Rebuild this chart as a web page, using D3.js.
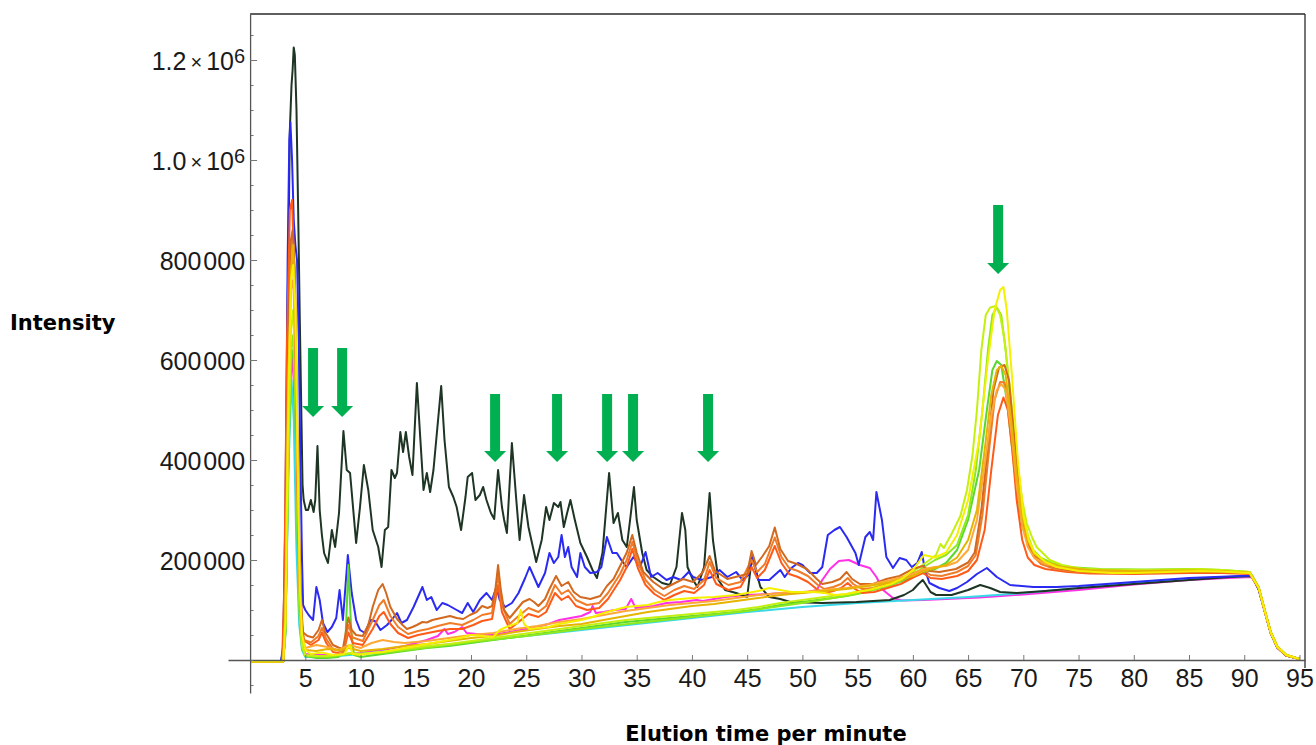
<!DOCTYPE html>
<html><head><meta charset="utf-8">
<script src="https://cdn.jsdelivr.net/npm/d3@7"></script>
<style>
html,body{margin:0;padding:0;background:#fff;}
svg{display:block;}
</style></head>
<body>
<svg id="chart" width="1316" height="745"></svg>
<script>
// ---------------- DATA (time in minutes, intensity in thousands) ----------------
const xTickValues = [5,10,15,20,25,30,35,40,45,50,55,60,65,70,75,80,85,90,95];
const xTickLabels = ["5","10","15","20","25","30","35","40","45","50","55","60","65","70","75","80","85","90","95"];
const yTickValues = [200,400,600,800,1000,1200];
const yTickLabels = ["200000","400000","600000","800000","1.0×10^6","1.2×10^6"];
const xTitle = "Elution time per minute";
const yTitle = "Intensity";
// arrows: [time, top intensity, tip intensity]
const arrowMarks = [[5.7,624,486],[8.33,624,486],[22.18,532,396],[27.79,532,396],[32.32,532,396],[34.67,532,396],[41.46,532,396],[67.72,910,772]];

const seriesCyan = [[0,-3],[3.0,-3],[3.2,60],[3.5,400],[3.75,560],[3.95,480],[4.2,220],[4.45,70],[4.7,20],[5,6],[7,6],[10,12],[15,24],[20,36],[25,48],[30,60],[35,72],[40,84],[45,96],[50,106],[55,114],[60,120],[65,126],[70,134],[75,144],[80,154],[85,162],[88.5,166],[90.7,168],[91.3,142],[91.9,94],[92.4,54],[93,25],[93.8,9],[95,2]];

const seriesMagenta = [[0,-3],[3.0,-3],[3.2,60],[3.5,450],[3.75,620],[3.95,560],[4.2,300],[4.45,100],[4.7,30],[5,12],[6,10],[8,10],[9,12],[10,14],[12,20],[14,28],[16,40],[17,48],[17.6,62],[17.9,52],[18.5,56],[19.2,66],[19.6,54],[20.5,52],[22,50],[23,54],[24,58],[25,62],[26,66],[27,72],[28,80],[29,84],[30,88],[30.8,96],[31.0,108],[31.3,94],[32,96],[33,100],[34,102],[34.5,122],[34.9,104],[35.5,106],[36.5,108],[37.7,114],[39,116],[40.4,120],[41,118],[42,122],[43,126],[45,130],[47,132],[48,134],[49.5,134],[50.5,136],[51.3,140],[51.8,160],[52.5,182],[53.3,198],[54.2,200],[55.2,190],[56.1,184],[56.7,166],[57.3,140],[58.2,124],[59,119],[61,120],[63,122],[66,125],[68,128],[70,131],[75,140],[80,151],[85,160],[88.5,164],[90.7,166],[91.3,141],[91.9,93],[92.4,53],[93,24],[93.8,9],[95,2]];

const seriesDark = [[0,-3],[2.8,-3],[3.0,20],[3.2,200],[3.4,700],[3.6,1060],[3.75,1150],[3.85,1180],[3.95,1225],[4.05,1210],[4.2,1100],[4.35,900],[4.5,680],[4.65,480],[4.75,350],[4.85,320],[5.05,300],[5.25,300],[5.5,320],[5.75,296],[5.9,320],[6.1,428],[6.3,300],[6.5,250],[6.7,214],[7.05,194],[7.4,260],[7.7,226],[8.05,294],[8.45,458],[8.75,380],[9.05,374],[9.6,234],[9.95,306],[10.3,390],[10.7,340],[11.1,260],[11.6,226],[11.9,186],[12.2,260],[12.5,266],[12.8,380],[13.1,364],[13.3,374],[13.6,456],[13.85,416],[14.1,456],[14.4,406],[14.7,370],[15.1,554],[15.4,446],[15.7,340],[16.0,374],[16.3,336],[16.6,380],[17.3,548],[17.6,440],[18.0,346],[18.4,326],[18.7,306],[19.1,260],[19.5,326],[19.7,366],[20.1,374],[20.4,320],[20.8,330],[21.1,346],[21.4,320],[21.8,294],[22.1,282],[22.45,380],[22.8,306],[23.0,280],[23.25,254],[23.7,434],[24.1,320],[24.4,240],[24.8,330],[25.2,266],[25.9,196],[26.4,240],[26.8,306],[27.1,280],[27.5,314],[27.9,306],[28.1,316],[28.4,266],[28.7,294],[29.0,320],[29.4,280],[29.9,234],[30.5,206],[31.0,180],[31.4,164],[31.9,214],[32.5,374],[32.9,274],[33.3,294],[33.7,240],[34.1,226],[34.4,280],[34.75,346],[35.0,280],[35.5,214],[35.9,180],[36.5,166],[37.3,154],[38.0,150],[38.6,186],[39.1,294],[39.4,260],[39.6,186],[40.1,160],[40.5,146],[41.1,186],[41.6,334],[41.9,240],[42.4,160],[43.0,140],[44.0,134],[45.0,126],[45.4,200],[45.7,186],[46.2,146],[47.0,126],[48.0,122],[48.9,116],[51.8,114],[54.9,116],[57.9,120],[59.2,130],[60.0,140],[60.5,152],[60.9,160],[61.2,150],[61.6,136],[62.1,130],[63.5,130],[65.0,140],[66.1,150],[67.0,144],[67.9,136],[69.4,134],[72,138],[75.1,144],[80,152],[85,160],[88.7,166],[90.7,168],[91.3,142],[91.9,94],[92.4,54],[93,25],[93.8,9],[95,2]];

const seriesBlue = [[0,-3],[2.8,-3],[3.0,30],[3.2,300],[3.4,800],[3.55,1040],[3.65,1075],[3.8,1000],[3.95,880],[4.1,830],[4.25,800],[4.4,650],[4.55,400],[4.7,200],[4.8,110],[5.0,100],[5.3,90],[5.7,80],[6.0,146],[6.3,120],[6.6,74],[7.0,56],[7.4,66],[7.8,84],[8.1,140],[8.4,80],[8.85,210],[9.2,134],[9.6,80],[9.95,60],[10.4,54],[10.9,80],[11.3,78],[11.8,60],[12.4,70],[12.8,80],[13.3,94],[13.7,74],[14.2,80],[14.8,106],[15.2,126],[15.6,146],[16.0,120],[16.4,126],[16.9,100],[17.4,114],[17.9,110],[18.7,100],[19.2,94],[19.7,114],[20.2,96],[20.8,120],[21.4,134],[21.9,120],[22.3,146],[22.6,120],[23.1,106],[23.7,114],[24.3,134],[24.9,164],[25.3,186],[25.7,166],[26.1,146],[26.7,174],[27.1,214],[27.5,194],[27.9,206],[28.2,250],[28.5,206],[28.8,226],[29.1,186],[29.6,166],[29.9,214],[30.3,186],[30.8,174],[31.4,176],[31.8,186],[32.3,246],[32.8,214],[33.2,214],[33.6,200],[34.1,186],[34.7,206],[35.3,186],[35.8,216],[36.3,166],[36.9,174],[37.7,160],[38.3,166],[39.0,160],[39.7,176],[40.1,166],[40.9,160],[41.8,166],[42.5,180],[43.2,166],[44.0,176],[44.6,160],[45.1,170],[45.5,210],[46.0,160],[47.0,160],[48.0,180],[48.4,166],[49.0,184],[49.6,194],[50.0,190],[50.7,174],[51.3,174],[51.8,186],[52.3,250],[52.9,260],[53.4,266],[54.0,246],[54.8,214],[55.1,190],[55.7,246],[56.1,256],[56.4,240],[56.7,336],[57.2,280],[57.6,206],[58.2,184],[58.8,204],[59.4,200],[59.9,186],[60.4,194],[60.8,216],[61.1,180],[61.5,154],[62.4,144],[63.3,138],[64.0,144],[64.9,156],[65.8,172],[66.7,184],[67.6,166],[68.8,150],[70.9,146],[73,146],[75,148],[80,156],[85,164],[88.5,167],[90.7,169],[91.3,143],[91.9,94],[92.4,54],[93,25],[93.8,9],[95,2]];

const seriesGreen = [[0,-3],[3.0,-3],[3.2,50],[3.45,380],[3.7,600],[3.9,620],[4.1,500],[4.3,250],[4.5,80],[4.7,25],[5,8],[6,4],[7,4],[8,6],[8.6,20],[8.9,190],[9.15,60],[9.4,10],[10,6],[12,12],[14,18],[16,24],[18,28],[20,34],[22,40],[24,46],[26,52],[28,58],[30,64],[32,70],[34,76],[36,80],[38,84],[40,88],[42,92],[44,96],[46,102],[48,110],[50,116],[52,122],[54,128],[56,138],[58,150],[60,166],[61,175],[62,182],[63,194],[64,220],[65,280],[66,380],[66.7,500],[67.2,580],[67.6,598],[68.0,590],[68.5,520],[69,420],[69.5,320],[70,260],[70.6,225],[71.3,205],[72.5,190],[74,182],[77,178],[80,178],[84,180],[87,180],[90.5,175],[91.3,146],[91.9,96],[92.4,56],[93,27],[93.8,10],[95,2]];

const seriesLime = [[0,-3],[3.0,-3],[3.2,60],[3.45,400],[3.7,620],[3.9,650],[4.1,520],[4.3,260],[4.5,90],[4.7,25],[5,8],[7,6],[9,12],[12,14],[15,22],[20,36],[25,48],[30,62],[35,74],[40,86],[45,98],[50,114],[55,132],[58,150],[60,170],[61,186],[62,200],[63,210],[64,230],[65,290],[65.7,380],[66.3,500],[66.8,620],[67.2,690],[67.6,705],[68.0,690],[68.4,620],[68.9,500],[69.4,380],[69.9,300],[70.4,250],[70.9,220],[71.6,204],[72.6,194],[74,186],[77,182],[81,181],[85,182],[88,180],[90.5,176],[91.3,146],[91.9,96],[92.4,56],[93,27],[93.8,10],[95,2]];

const seriesYellowGreen = [[0,-3],[3.0,-3],[3.2,70],[3.45,420],[3.7,660],[3.9,700],[4.1,560],[4.3,300],[4.5,100],[4.7,30],[5,10],[6,8],[7,8],[8,10],[9,14],[10,12],[12,16],[14,22],[16,28],[18,32],[20,38],[22,44],[24,50],[26,56],[28,62],[30,68],[32,74],[34,80],[36,84],[38,88],[40,92],[42,96],[44,100],[46,106],[48,114],[50,120],[52,126],[54,132],[56,142],[58,156],[59.5,168],[60.5,184],[61.5,200],[62.1,210],[62.5,232],[62.8,224],[63.5,252],[64.3,288],[64.9,340],[65.4,410],[65.8,500],[66.2,620],[66.6,690],[67.0,705],[67.5,708],[67.9,690],[68.3,640],[68.8,540],[69.4,406],[69.9,320],[70.3,274],[70.8,245],[71.2,226],[72.4,200],[73.5,190],[75.4,182],[78,180],[82,180],[86,182],[88,180],[90.5,176],[91.3,146],[91.9,96],[92.4,56],[93,27],[93.8,10],[95,2]];

const seriesRedOrange = [[0,-3],[2.9,-3],[3.1,150],[3.35,650],[3.6,900],[3.8,920],[4.0,780],[4.2,450],[4.4,200],[4.6,80],[4.8,40],[5.5,30],[6.2,40],[6.5,55],[6.9,34],[7.5,16],[8.4,12],[8.9,55],[9.3,34],[10.2,30],[11.1,62],[11.7,88],[12.1,96],[12.7,72],[13.4,54],[14.3,44],[15.2,50],[16.1,54],[17.0,58],[18.1,62],[19.2,62],[20.2,70],[21.0,78],[21.9,82],[22.45,150],[22.8,96],[23.5,62],[24.2,74],[25.2,92],[26.1,86],[26.8,96],[27.6,134],[28.2,120],[28.8,128],[29.5,108],[30.5,100],[31.6,104],[32.4,122],[33.5,160],[34.1,186],[34.6,222],[35.1,184],[35.8,150],[36.6,132],[37.5,120],[38.4,130],[39.3,138],[40.2,134],[41.1,150],[41.6,180],[42.2,152],[43.3,140],[44.4,146],[45.4,186],[45.9,164],[46.6,180],[47.5,228],[48.1,194],[48.8,172],[49.6,166],[50.5,156],[51.4,140],[52.0,134],[52.8,138],[53.5,144],[54.1,154],[54.6,144],[55.4,134],[56.5,136],[57.7,144],[58.9,152],[60.1,166],[60.9,174],[61.6,164],[62.6,162],[64.0,168],[65.0,178],[65.8,200],[66.5,260],[67.1,380],[67.7,490],[68.2,525],[68.6,500],[69.0,420],[69.4,320],[69.9,240],[70.4,205],[71.0,190],[72,182],[74,176],[76,173],[80,172],[85,174],[88,174],[90.5,172],[91.3,144],[91.9,94],[92.4,54],[93,25],[93.8,9],[95,2]];

const seriesOrange = [[0,-3],[3.0,-3],[3.2,120],[3.45,560],[3.7,790],[3.9,800],[4.1,650],[4.3,380],[4.5,170],[4.7,70],[4.9,40],[5.5,35],[6.2,48],[6.5,64],[6.9,42],[7.5,22],[8.4,16],[8.9,70],[9.3,45],[10.2,38],[11.1,80],[11.7,110],[12.1,120],[12.7,88],[13.4,66],[14.3,52],[15.2,58],[16.1,62],[17.0,68],[18.1,74],[19.2,70],[20.2,80],[21.0,90],[21.9,94],[22.45,170],[22.8,110],[23.5,72],[24.2,86],[25.2,104],[26.1,96],[26.8,108],[27.6,150],[28.2,132],[28.8,140],[29.5,120],[30.5,110],[31.6,114],[32.4,134],[33.5,172],[34.1,200],[34.6,236],[35.1,196],[35.8,160],[36.6,140],[37.5,128],[38.4,140],[39.3,148],[40.2,142],[41.1,160],[41.6,196],[42.2,164],[43.3,150],[44.4,156],[45.4,200],[45.9,176],[46.6,192],[47.5,245],[48.1,206],[48.8,184],[49.6,178],[50.5,168],[51.4,150],[52.0,142],[52.8,146],[53.5,152],[54.1,164],[54.6,152],[55.4,142],[56.5,144],[57.7,152],[58.9,160],[60.1,174],[60.9,180],[61.6,170],[62.6,168],[64.0,176],[65.0,188],[65.7,210],[66.3,290],[66.9,420],[67.4,520],[67.9,556],[68.3,555],[68.8,510],[69.3,400],[69.8,300],[70.3,240],[70.9,208],[71.6,192],[72.6,184],[74,178],[76,175],[80,174],[85,176],[88,176],[90.5,173],[91.3,144],[91.9,94],[92.4,54],[93,25],[93.8,9],[95,2]];

const seriesBrown = [[0,-3],[3.0,-3],[3.2,100],[3.45,600],[3.7,840],[3.85,860],[4.05,780],[4.25,500],[4.45,250],[4.65,100],[4.8,55],[5.2,48],[5.7,45],[6.2,60],[6.5,80],[6.8,55],[7.1,45],[7.5,30],[8.0,25],[8.4,22],[8.9,85],[9.2,60],[9.6,50],[10.2,48],[10.7,70],[11.1,106],[11.6,140],[12.0,152],[12.3,135],[12.7,106],[13.3,82],[13.8,70],[14.2,62],[14.7,66],[15.1,70],[15.6,76],[16.0,75],[16.5,80],[16.9,82],[17.5,85],[18.1,88],[18.7,84],[19.3,82],[19.9,90],[20.5,96],[21.0,108],[21.5,104],[21.9,108],[22.2,140],[22.45,190],[22.7,140],[23.0,100],[23.5,84],[24.1,100],[24.7,116],[25.3,122],[25.7,116],[26.1,108],[26.7,122],[27.1,142],[27.7,168],[28.2,148],[28.8,156],[29.3,136],[29.9,126],[30.8,122],[31.7,128],[32.3,148],[32.9,162],[33.5,188],[34.1,215],[34.6,250],[35.0,215],[35.6,176],[36.5,156],[37.4,142],[38.3,152],[39.2,162],[40.1,156],[41.0,176],[41.6,208],[42.1,178],[43.2,162],[44.3,168],[45.0,172],[45.4,218],[45.8,190],[46.4,208],[47.0,228],[47.5,265],[48.0,222],[48.7,198],[49.5,192],[50.4,182],[51.3,162],[51.8,152],[52.7,156],[53.4,162],[54.0,176],[54.5,162],[55.2,152],[56.4,152],[57.6,162],[58.8,168],[60.0,182],[60.9,188],[61.5,178],[62.4,176],[63.9,182],[65.0,195],[65.6,215],[66.2,300],[66.8,430],[67.3,540],[67.8,585],[68.3,590],[68.7,560],[69.2,440],[69.7,320],[70.2,250],[70.8,215],[71.5,198],[72.5,188],[74,180],[76,176],[80,175],[85,177],[88,177],[90.5,174],[91.3,145],[91.9,95],[92.4,55],[93,26],[93.8,10],[95,2]];

const seriesLightOrange = [[0,-3],[3.0,-3],[3.2,100],[3.45,560],[3.7,740],[3.9,760],[4.1,640],[4.3,380],[4.5,140],[4.7,45],[5,24],[6,30],[7,26],[8,20],[9,30],[10,24],[11,34],[12,40],[13,36],[14,34],[16,38],[18,44],[20,50],[22,54],[24,62],[26,68],[28,76],[30,82],[32,90],[34,98],[36,104],[38,110],[40,114],[42,118],[44,124],[46,130],[48,134],[50,136],[52,140],[54,144],[56,150],[58,160],[60,172],[61,182],[62,186],[63,188],[64,196],[65,220],[65.8,280],[66.5,390],[67.1,490],[67.6,540],[68.0,552],[68.4,540],[68.9,460],[69.4,350],[69.9,270],[70.4,226],[71,204],[72,192],[73.5,184],[76,178],[80,176],[85,178],[88,177],[90.5,174],[91.3,145],[91.9,95],[92.4,55],[93,26],[93.8,10],[95,2]];

const seriesGold = [[0,-3],[3.0,-3],[3.2,90],[3.45,520],[3.7,780],[3.9,830],[4.1,720],[4.3,420],[4.5,160],[4.7,50],[5,20],[6,18],[7,22],[8,20],[9,24],[10,18],[12,22],[14,28],[16,32],[18,38],[20,44],[22,48],[24,56],[26,62],[28,68],[30,72],[32,80],[34,88],[36,96],[38,102],[40,108],[42,112],[44,118],[46,124],[48,130],[50,134],[52,138],[54,142],[56,148],[58,156],[60,168],[61,178],[62,184],[63,190],[64,205],[65,240],[65.8,300],[66.5,420],[67.1,530],[67.6,580],[68.0,588],[68.4,570],[68.9,480],[69.4,370],[69.9,290],[70.4,240],[71,212],[72,196],[73.5,186],[76,180],[80,178],[85,179],[88,178],[90.5,174],[91.3,145],[91.9,95],[92.4,55],[93,26],[93.8,10],[95,2]];

const seriesYellow = [[0,-3],[3.0,-3],[3.2,80],[3.45,500],[3.7,760],[3.9,790],[4.1,700],[4.3,400],[4.5,150],[4.7,50],[5.0,20],[5.5,12],[6.5,15],[7.5,10],[8.5,12],[9.0,30],[9.3,12],[10,10],[11,14],[12,16],[13,20],[14,24],[15,28],[16,32],[17,36],[18,40],[19,44],[20,50],[21,48],[22,46],[22.6,60],[23.2,66],[24.2,74],[24.5,100],[24.8,72],[25.3,62],[26,64],[27,66],[28,72],[29,76],[30,80],[31,86],[32,94],[33,100],[34,106],[35,108],[36,110],[37,116],[38,120],[39,122],[40,124],[42,126],[44,130],[45,134],[46,138],[47,144],[48,140],[49,136],[50,136],[51,136],[52,134],[53,130],[54,132],[55,136],[56,140],[57,146],[58,152],[59,162],[60,180],[61,210],[62,205],[63,215],[64,250],[65,320],[66,440],[66.8,600],[67.4,700],[67.9,740],[68.2,746],[68.5,700],[69,560],[69.5,400],[70,290],[70.5,240],[71,215],[72,196],[73,186],[75,178],[78,174],[80,174],[83,176],[86,178],[88,177],[90.5,174],[91.3,145],[91.9,95],[92.4,55],[93,26],[93.8,10],[95,2]];

// draw order (back to front) and colours
const seriesList = [seriesMagenta, seriesCyan, seriesDark, seriesBlue, seriesGreen, seriesLime, seriesYellowGreen, seriesRedOrange, seriesOrange, seriesBrown, seriesLightOrange, seriesGold, seriesYellow];
const seriesColors = ["#ff30e6", "#38d8e8", "#1e3524", "#2a2af2", "#5ad82e", "#8fe81c", "#c4f010", "#ff5a18", "#f07c28", "#d2691e", "#ffa838", "#e6b400", "#f4f000"];

// ---------------- CHART ----------------
const svg = d3.select("#chart");
const x = d3.scaleLinear().domain([-2, 95.5]).range([228, 1305]);
const y = d3.scaleLinear().domain([-66, 1292]).range([693, 14]);
const tickFont = "'Liberation Sans', Arial, sans-serif";

// frame (top and right)
svg.append("line").attr("x1", x(0)).attr("x2", x(95.5)).attr("y1", y(1292)).attr("y2", y(1292))
  .attr("stroke", "#2a2a2a").attr("stroke-width", 1.3);
svg.append("line").attr("x1", x(95.5)).attr("x2", x(95.5)).attr("y1", y(1292)).attr("y2", y(0) + 8)
  .attr("stroke", "#2a2a2a").attr("stroke-width", 1.3);

// lines
const line = d3.line().x(d => x(d[0])).y(d => y(d[1]));
const gLines = svg.append("g");
seriesList.forEach((s, i) => {
  gLines.append("path").datum(s).attr("d", line)
    .attr("fill", "none").attr("stroke", seriesColors[i])
    .attr("stroke-width", 2).attr("stroke-linejoin", "round");
});

// x axis
const xAxis = d3.axisBottom(x).tickValues(xTickValues).tickFormat((d, i) => xTickLabels[i])
  .tickSize(-5).tickSizeOuter(0).tickPadding(9);
const gx = svg.append("g").attr("transform", `translate(0,${y(0)})`).call(xAxis);
gx.select(".domain").attr("stroke", "#555").attr("stroke-width", 1.3);
gx.selectAll(".tick line").attr("stroke", "#777");
gx.selectAll(".tick text").attr("font-family", tickFont).attr("font-size", 25).attr("fill", "#1a1a1a");

// y axis minor ticks
const minorVals = d3.range(-50, 1300, 50).filter(v => !yTickValues.includes(v));
const gyMinor = svg.append("g").attr("transform", `translate(${x(0)},0)`)
  .call(d3.axisLeft(y).tickValues(minorVals).tickSize(-3.5).tickSizeOuter(0).tickFormat(""));
gyMinor.select(".domain").remove();
gyMinor.selectAll(".tick line").attr("stroke", "#777");

// y axis
const yAxis = d3.axisLeft(y).tickValues(yTickValues).tickFormat("").tickSize(-7).tickSizeOuter(0).tickPadding(6);
const gy = svg.append("g").attr("transform", `translate(${x(0)},0)`).call(yAxis);
gy.select(".domain").attr("stroke", "#555").attr("stroke-width", 1.3);
gy.selectAll(".tick line").attr("stroke", "#777");
gy.selectAll(".tick").each(function(d, i) {
  const lab = yTickLabels[i];
  const t = d3.select(this).append("text")
    .attr("x", -5).attr("dy", "0.36em").attr("text-anchor", "end")
    .attr("font-family", tickFont).attr("font-size", 25).attr("fill", "#1a1a1a");
  const m = lab.match(/^(.*)×10\^(\d+)$/);
  if (m) {
    t.append("tspan").text(m[1]);
    t.append("tspan").attr("font-size", 20).attr("dx", 4).attr("dy", -1).text("×");
    t.append("tspan").attr("dx", 4).attr("dy", 1).text("10");
    t.append("tspan").attr("font-size", 20).attr("dy", -7).text(m[2]);
  } else {
    t.append("tspan").text(lab.slice(0, 3));
    t.append("tspan").attr("dx", 2).text(lab.slice(3));
  }
});

// titles
svg.append("text").attr("x", 10).attr("y", 330)
  .attr("font-family", "'DejaVu Sans', Verdana, sans-serif").attr("font-weight", "bold")
  .attr("font-size", 21).attr("fill", "#000").text(yTitle);
svg.append("text").attr("x", 766).attr("y", 741).attr("text-anchor", "middle")
  .attr("font-family", "'DejaVu Sans', Verdana, sans-serif").attr("font-weight", "bold")
  .attr("font-size", 21).attr("fill", "#000").text(xTitle);

// arrows
const gArr = svg.append("g");
arrowMarks.forEach(a => {
  const cx = x(a[0]), top = y(a[1]), tip = y(a[2]);
  const hw = 5, hh = 11, aw = 11;
  const pts = [[cx - hw, top], [cx + hw, top], [cx + hw, tip - hh], [cx + aw, tip - hh], [cx, tip],
               [cx - aw, tip - hh], [cx - hw, tip - hh]];
  gArr.append("polygon").attr("points", pts.map(p => p.join(",")).join(" ")).attr("fill", "#00b050");
});
</script>
</body></html>
